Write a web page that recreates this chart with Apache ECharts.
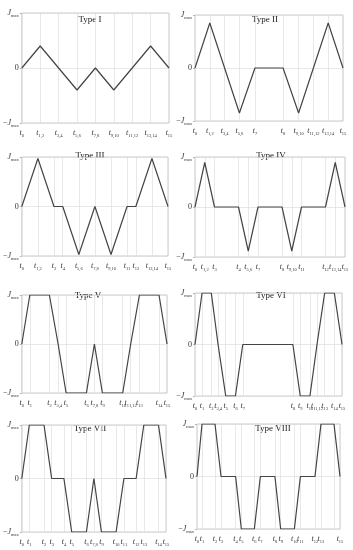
<!DOCTYPE html>
<html><head><meta charset="utf-8">
<script src="https://cdn.jsdelivr.net/npm/echarts@6/dist/echarts.min.js"></script>
<style>html,body{margin:0;padding:0;background:#fff}#c{width:353px;height:550px}</style>
</head><body><div id="c"></div>
<script>
const titles = ['Type I','Type II','Type III','Type IV','Type V','Type VI','Type VII','Type VIII'];
const yTicks = [-1, 0, 1];

const t1Times = [0,1,2,3,4,5,6,7,8];
const t1Labels = ['0','1,2','3,4','5,6','7,8','9,10','11,12','13,14','15'];
const t1Jerk = [0,0.4,0,-0.4,0,-0.4,0,0.4,0];

const t2Times = [0,1,2,3,4.05,5.95,7,8,9,10];
const t2Labels = ['0','1,2','3,4','5,6','7','8','9,10','11,12','13,14','15'];
const t2Jerk = [0,0.85,0,-0.85,0,0,-0.85,0,0.85,0];

const t3Times = [0,1.1,2.2,2.8,3.9,5,6.1,7.2,7.8,8.9,10];
const t3Labels = ['0','1,2','3','4','5,6','7,8','9,10','11','12','13,14','15'];
const t3Jerk = [0,0.97,0,0,-0.97,0,-0.97,0,0,0.97,0];

const t4Times = [0,0.65,1.3,2.9,3.55,4.2,5.8,6.45,7.1,8.7,9.35,10];
const t4Labels = ['0','1,2','3','4','5,6','7','8','9,10','11','12','13,14','15'];
const t4Jerk = [0,0.89,0,0,-0.88,0,0,-0.88,0,0,0.89,0];

const t5Times = [0,0.55,1.9,2.5,3.05,4.45,5,5.55,6.95,7.5,8.1,9.45,10];
const t5Labels = ['0','1','2','3,4','5','6','7,8','9','10','11,12','13','14','15'];
const t5Jerk = [0,1,1,0,-1,-1,0,-1,-1,0,1,1,0];

const t6Times = [0,0.48,1.11,1.57,2.09,2.75,3.25,6.66,7.16,7.82,8.3,8.82,9.48,10];
const t6Labels = ['0','1','2','3,4','5','6','7','8','9','10','11,12','13','14','15'];
const t6Jerk = [0,1,1,0,-1,-1,0,0,-1,-1,0,1,1,0];

const t7Times = [0,0.52,1.54,2.07,2.92,3.46,4.48,5,5.52,6.54,7.08,7.93,8.46,9.48,10];
const t7Labels = ['0','1','2','3','4','5','6','7,8','9','10','11','12','13','14','15'];
const t7Jerk = [0,1,1,0,0,-1,-1,0,-1,-1,0,0,1,1,0];

const t8Times = [0,0.35,1.26,1.68,2.7,3.1,4.01,4.43,5.45,5.85,6.81,7.23,8.25,8.67,9.58,10];
const t8Labels = ['0','1','2','3','4','5','6','7','8','9','10','11','12','13','14','15'];
const t8Jerk = [0,1,1,0,0,-1,-1,0,0,-1,-1,0,0,1,1,0];

const panels = [
  {times:t1Times, labels:t1Labels, jerk:t1Jerk},
  {times:t2Times, labels:t2Labels, jerk:t2Jerk},
  {times:t3Times, labels:t3Labels, jerk:t3Jerk},
  {times:t4Times, labels:t4Labels, jerk:t4Jerk},
  {times:t5Times, labels:t5Labels, jerk:t5Jerk},
  {times:t6Times, labels:t6Labels, jerk:t6Jerk},
  {times:t7Times, labels:t7Labels, jerk:t7Jerk},
  {times:t8Times, labels:t8Labels, jerk:t8Jerk}
];

// layout (pixels)
const layout = [
  {left:21, top:13, width:148, height:110, tx:90, ty:15},
  {left:195, top:15, width:148, height:106, tx:265, ty:15},
  {left:18, top:157, width:150, height:99, tx:90, ty:151},
  {left:195, top:157, width:150, height:100, tx:271, ty:151},
  {left:19, top:295, width:148, height:98, tx:88, ty:291},
  {left:195, top:293, width:147, height:103, tx:271, ty:291},
  {left:19, top:425, width:147, height:107, tx:90, ty:424},
  {left:197, top:424, width:143, height:105, tx:273, ty:424}
];

const serif = 'Liberation Serif';
const rich = {
  t: {fontFamily:serif, fontStyle:'italic', fontSize:8, color:'#333'},
  j: {fontFamily:serif, fontStyle:'italic', fontSize:8, color:'#333'},
  m: {fontFamily:serif, fontSize:8, color:'#333'},
  z: {fontFamily:serif, fontSize:8, color:'#333'},
  s: {fontFamily:serif, fontSize:4.5, color:'#333', padding:[5,0,0,0]}
};

const grid = [], xAxis = [], yAxis = [], series = [], graphic = [];
panels.forEach((p, i) => {
  const L = layout[i];
  grid.push({left:L.left, top:L.top, width:L.width, height:L.height, show:true,
    borderColor:'#bdbdbd', borderWidth:0.8, containLabel:false});
  xAxis.push({
    type:'value', gridIndex:i, min:p.times[0], max:p.times[p.times.length-1],
    axisLine:{show:false},
    axisTick:{show:false, customValues:p.times},
    splitLine:{show:true, lineStyle:{color:'#dedede', width:0.7}},
    axisLabel:{customValues:p.times, margin:5, hideOverlap:false, showMinLabel:true, showMaxLabel:true,
      formatter:(v) => {
        let k = 0, best = Infinity;
        p.times.forEach((t, idx) => { const d = Math.abs(t - v); if (d < best) { best = d; k = idx; } });
        return '{t|t}{s|' + p.labels[k] + '}';
      }, rich:rich}
  });
  yAxis.push({
    type:'value', gridIndex:i, min:-1, max:1, interval:1,
    axisLine:{show:false},
    axisTick:{show:true, length:2, lineStyle:{color:'#999', width:0.7}},
    splitLine:{show:true, lineStyle:{color:'#dedede', width:0.7}},
    axisLabel:{margin:3, formatter:(v) => v === 1 ? '{j|J}{s|max}' : (v === -1 ? '{m|\u2212}{j|J}{s|max}' : '{z|0}'), rich:rich}
  });
  series.push({
    type:'line', xAxisIndex:i, yAxisIndex:i, symbol:'none', silent:true,
    lineStyle:{color:'#444', width:1.2},
    data:p.times.map((t, k) => [t, p.jerk[k]])
  });
  graphic.push({type:'text', x:L.tx, y:L.ty, style:{text:titles[i], fontFamily:serif, fontSize:9, fill:'#222', align:'center', verticalAlign:'top'}});
});

const chart = echarts.init(document.getElementById('c'), null, {renderer:'canvas'});
chart.setOption({animation:false, backgroundColor:'#fff', grid, xAxis, yAxis, series, graphic});
</script>
</body></html>
